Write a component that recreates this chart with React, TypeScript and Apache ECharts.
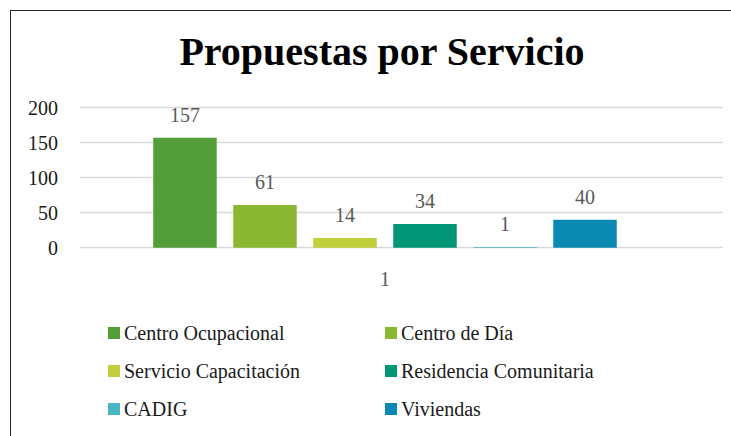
import React, { useEffect, useRef } from "react";
import * as echarts from "echarts";

const categories = ["1"];
const seriesNames = [
  "Centro Ocupacional",
  "Centro de Día",
  "Servicio Capacitación",
  "Residencia Comunitaria",
  "CADIG",
  "Viviendas",
];
const seriesValues = [157, 61, 14, 34, 1, 40];
const colors = ["#549E39", "#8AB833", "#C0CF3A", "#029676", "#4AB5C4", "#0989B1"];
const yTicks = { min: 0, max: 200, interval: 50 };
const legendLeft = [seriesNames[0], seriesNames[2], seriesNames[4]];
const legendRight = [seriesNames[1], seriesNames[3], seriesNames[5]];

const FONT = "'Liberation Serif', 'Times New Roman', serif";

export default function App() {
  const ref = useRef<HTMLDivElement>(null);
  useEffect(() => {
    if (!ref.current) return;
    const chart = echarts.init(ref.current, undefined, { renderer: "svg" });
    const top = 107.7;
    const bottom = 436 - 247.7;
    const legendCommon = {
      orient: "vertical" as const,
      top: 323,
      itemWidth: 12,
      itemHeight: 12,
      itemGap: 18,
      icon: "rect",
      textStyle: { fontFamily: FONT, fontSize: 20, color: "#1a1a1a", lineHeight: 20, padding: [0, 0, 0, -1] },
      selectedMode: false as const,
      padding: 0,
    };
    chart.setOption({
      animation: false,
      color: colors,
      textStyle: { fontFamily: FONT },
      title: {
        text: "Propuestas por Servicio",
        left: 377,
        textAlign: "center",
        top: 26,
        textStyle: { fontFamily: FONT, fontSize: 40, fontWeight: "bold", color: "#000" },
      },
      legend: [
        { ...legendCommon, left: 108, data: legendLeft },
        { ...legendCommon, left: 385, data: legendRight },
      ],
      grid: [
        { left: 80, right: 8, top, bottom },
        { left: 80, width: 610, top, bottom },
      ],
      xAxis: [
        { type: "category", gridIndex: 0, data: categories, show: false },
        {
          type: "category",
          gridIndex: 1,
          data: categories,
          axisLine: { show: false },
          axisTick: { show: false },
          axisLabel: { fontFamily: FONT, fontSize: 20, color: "#595959", margin: 21 },
        },
      ],
      yAxis: [
        {
          type: "value",
          gridIndex: 0,
          min: yTicks.min,
          max: yTicks.max,
          interval: yTicks.interval,
          axisLine: { show: false },
          axisTick: { show: false },
          axisLabel: { fontFamily: FONT, fontSize: 20, color: "#1a1a1a", margin: 22 },
          splitLine: { lineStyle: { color: "#D9D9D9", width: 1.3 } },
        },
        {
          type: "value",
          gridIndex: 1,
          min: yTicks.min,
          max: yTicks.max,
          interval: yTicks.interval,
          show: false,
        },
      ],
      series: seriesNames.map((name, i) => ({
        name,
        type: "bar",
        xAxisIndex: 1,
        yAxisIndex: 1,
        barWidth: 63.5,
        barGap: "26%",
        data: [seriesValues[i]],
        itemStyle: { color: colors[i] },
        label: {
          show: true,
          position: "top",
          distance: 13,
          fontFamily: FONT,
          fontSize: 20,
          color: "#595959",
        },
      })),
    });
    return () => chart.dispose();
  }, []);
  return (
    <div style={{ position: "absolute", left: 0, top: 0, width: 731, height: 436, background: "#fff", overflow: "hidden" }}>
      <div
        style={{
          position: "absolute",
          left: 10,
          top: 9.7,
          width: 760,
          height: 460,
          border: "1.6px solid #262626",
          boxSizing: "border-box",
        }}
      />
      <div ref={ref} style={{ position: "absolute", left: 0, top: 0, width: 731, height: 436 }} />
    </div>
  );
}
